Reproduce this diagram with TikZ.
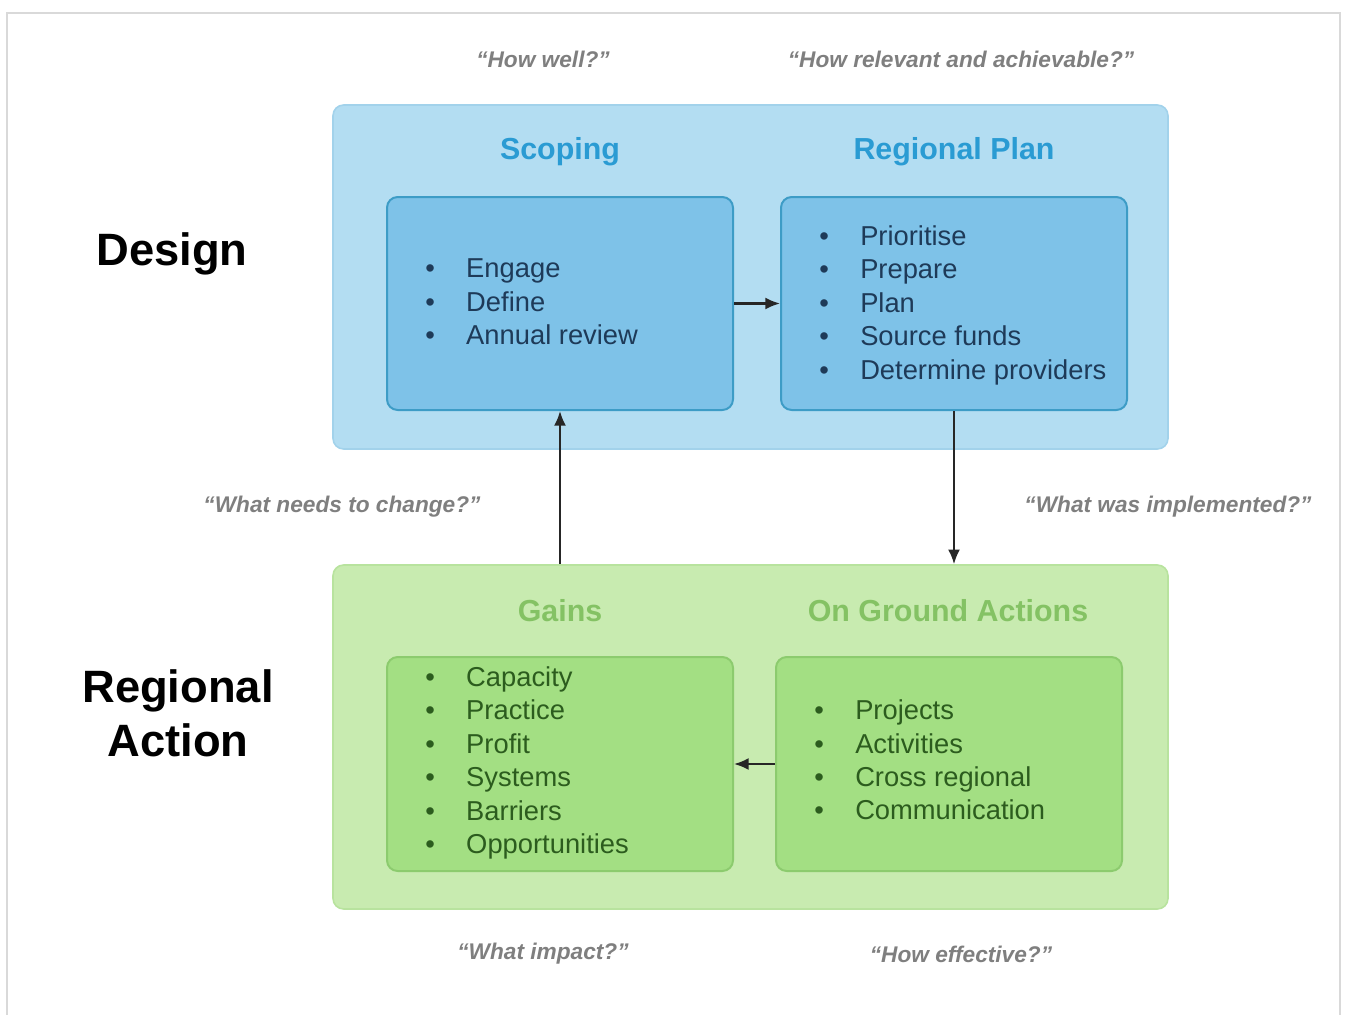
\documentclass[tikz,border=0pt]{standalone}
\usepackage{fontspec}
\setmainfont{Liberation Sans}
\usetikzlibrary{fit,arrows.meta}
\definecolor{frameg}{HTML}{D9D9D9}
\definecolor{bluebg}{HTML}{B3DDF2}
\definecolor{blueedge}{HTML}{A2D2EB}
\definecolor{bluein}{HTML}{7EC2E8}
\definecolor{blueinedge}{HTML}{3D9CC6}
\definecolor{bluetitle}{HTML}{2A9BD3}
\definecolor{bluetext}{HTML}{1E3A58}
\definecolor{greenbg}{HTML}{C8EBB0}
\definecolor{greenedge}{HTML}{B8E39E}
\definecolor{greenin}{HTML}{A3DF83}
\definecolor{greeninedge}{HTML}{8CCB6E}
\definecolor{greentitle}{HTML}{84C264}
\definecolor{greentext}{HTML}{2C5C1E}
\definecolor{quotegray}{HTML}{7F7F7F}
\definecolor{arrowc}{HTML}{262626}
\newcommand\bul{\makebox[30.75pt][l]{\textbullet}}
\begin{document}
\begin{tikzpicture}[x=0.75pt,y=-0.75pt,
  outerblue/.style={draw=blueedge,fill=bluebg,line width=1.2pt,rounded corners=8pt,inner sep=0pt},
  innerblue/.style={draw=blueinedge,fill=bluein,line width=1.5pt,rounded corners=8pt,inner sep=0pt},
  outergreen/.style={draw=greenedge,fill=greenbg,line width=1.2pt,rounded corners=8pt,inner sep=0pt},
  innergreen/.style={draw=greeninedge,fill=greenin,line width=1.5pt,rounded corners=8pt,inner sep=0pt},
  btitle/.style={text=bluetitle,font=\fontsize{22.8}{27}\selectfont\bfseries,inner sep=0pt},
  gtitle/.style={text=greentitle,font=\fontsize{22.8}{27}\selectfont\bfseries,inner sep=0pt},
  blist/.style={text=bluetext,align=left,inner sep=0pt,anchor=west,font=\fontsize{20.5}{25.1}\selectfont},
  glist/.style={text=greentext,align=left,inner sep=0pt,anchor=west,font=\fontsize{20.5}{25.1}\selectfont},
  side/.style={align=center,inner sep=0pt,font=\fontsize{34}{40.5}\selectfont\bfseries},
  quote/.style={text=quotegray,inner sep=0pt,font=\fontsize{17}{20}\selectfont\bfseries\itshape},
  arr/.style={draw=arrowc,line width=1.6pt,-{Latex[length=11pt,width=9pt]}}
]
\useasboundingbox (0,0) rectangle (1345,1014);
\fill[white] (0,0) rectangle (1345,1014);
\draw[frameg,line width=1.5pt] (7,1016) -- (7,13) -- (1340,13) -- (1340,1016);

% Design panel
\node[outerblue,fit={(333,105) (1168,449)}] (design) {};
\node[btitle] (scopet) at (560,152) {Scoping};
\node[btitle] (plant) at (954,152) {Regional Plan};
\node[innerblue,fit={(387,197) (733,410)}] (scope) {};
\node[innerblue,fit={(781,197) (1127,410)}] (plan) {};
\node[blist] (scopelist) at (425,302) {\bul Engage\\ \bul Define\\ \bul Annual review};
\node[blist] (planlist) at (819,305) {\bul Prioritise\\ \bul Prepare\\ \bul Plan\\ \bul Source funds\\ \bul Determine providers};

% Action panel
\node[outergreen,fit={(333,565) (1168,909)}] (action) {};
\node[gtitle] (gainst) at (560,611) {Gains};
\node[gtitle] (groundt) at (948,611) {On Ground Actions};
\node[innergreen,fit={(387,657) (733,871)}] (gains) {};
\node[innergreen,fit={(776,657) (1122,871)}] (ground) {};
\node[glist] (gainslist) at (425,763) {\bul Capacity\\ \bul Practice\\ \bul Profit\\ \bul Systems\\ \bul Barriers\\ \bul Opportunities};
\node[glist] (groundlist) at (814,760) {\bul Projects\\ \bul Activities\\ \bul Cross regional\\ \bul Communication};

% side labels
\node[side] (designl) at (172,254) {Design};
\node[side] (actionl) at (178,713) {Regional\\Action};

% quotes
\node[quote] (q1) at (543,59) {“How well?”};
\node[quote] (q2) at (961,59) {“How relevant and achievable?”};
\node[quote] (q3) at (342,507) {“What needs to change?”};
\node[quote] (q4) at (1168,507) {“What was implemented?”};
\node[quote] (q5) at (543,954) {“What impact?”};
\node[quote] (q6) at (961,954) {“How effective?”};

% connectors
\draw[arr] (scope.east) -- (plan.west);
\draw[arr] (plan.south) -- (action.north -| plan.south);
\draw[arr] (action.north -| scope.south) -- (scope.south);
\draw[arr] (ground.west) -- (gains.east);
\end{tikzpicture}
\end{document}
